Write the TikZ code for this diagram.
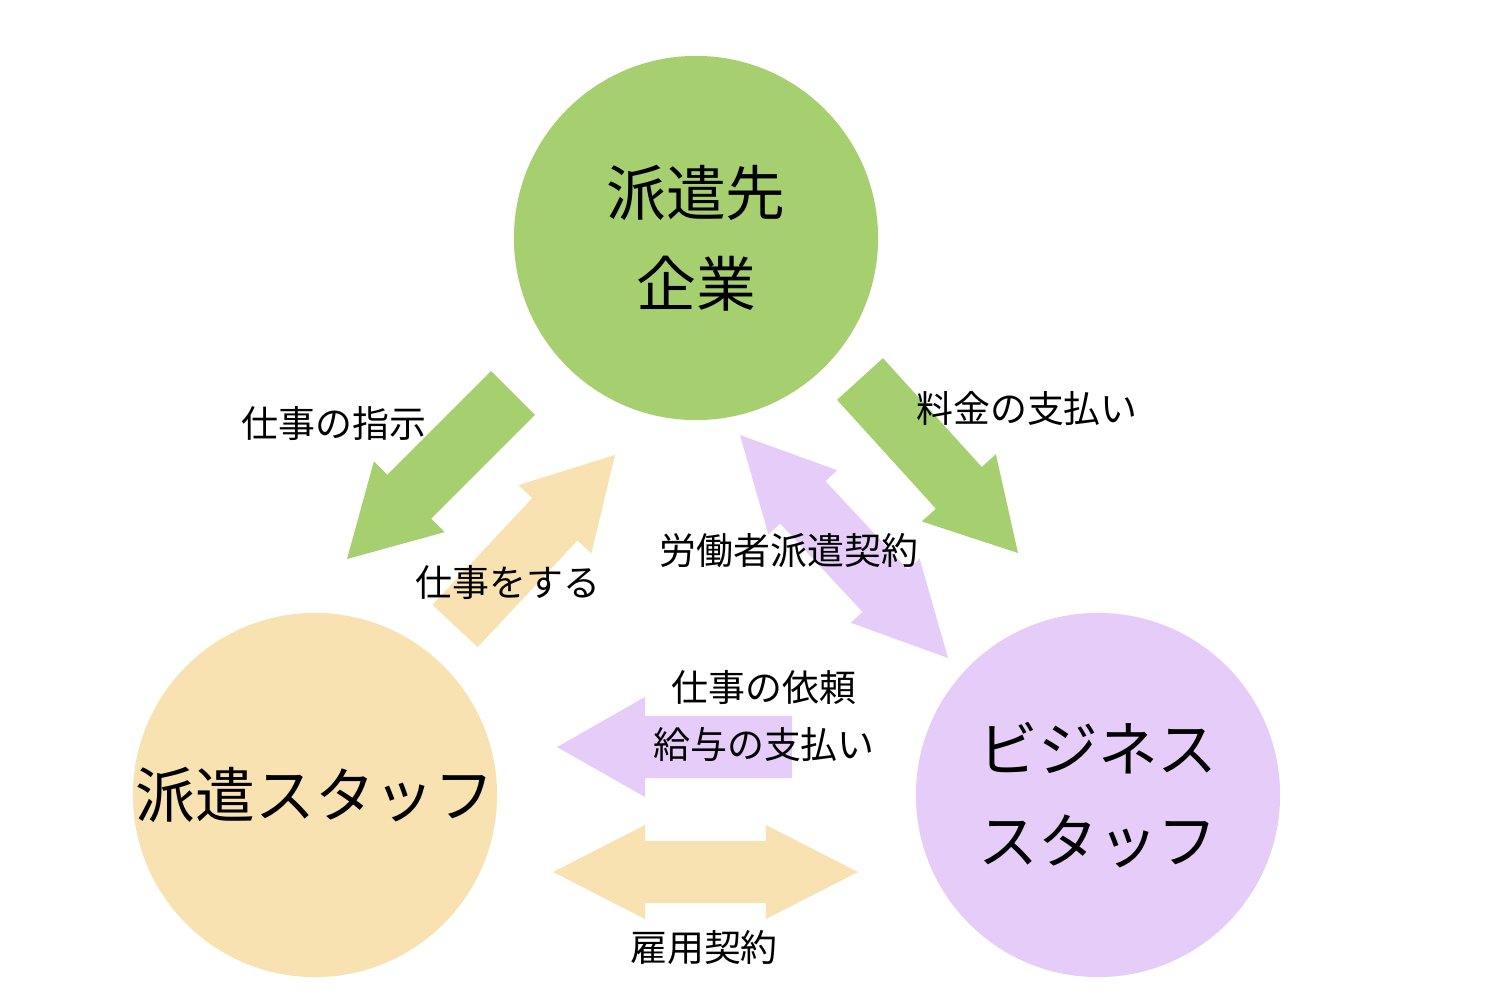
\documentclass[tikz,border=0pt]{standalone}
\usepackage{fontspec}
\setmainfont{Noto Sans CJK JP}
\usetikzlibrary{calc}
\definecolor{sakigreen}{HTML}{A6D06F}
\definecolor{hakenyellow}{HTML}{F8E2B1}
\definecolor{bizpurple}{HTML}{E6CCF8}
\newcommand{\blockarrow}[3]{%
  \coordinate (ba) at ($(#3)!0.88cm!(#2)$);
  \fill[#1] ($(#2)!0.31cm!90:(#3)$) -- ($(ba)!0.31cm!90:(#3)$) -- ($(ba)!0.5cm!90:(#3)$) -- (#3)
    -- ($(ba)!0.5cm!-90:(#3)$) -- ($(ba)!0.31cm!-90:(#3)$) -- ($(#2)!0.31cm!-90:(#3)$) -- cycle;}
\newcommand{\dblockarrow}[3]{%
  \coordinate (ba) at ($(#2)!0.92cm!(#3)$);
  \coordinate (bb) at ($(#3)!0.92cm!(#2)$);
  \fill[#1] (#2) -- ($(ba)!0.47cm!90:(#3)$) -- ($(ba)!0.31cm!90:(#3)$) -- ($(bb)!0.31cm!-90:(#2)$)
    -- ($(bb)!0.47cm!-90:(#2)$) -- (#3) -- ($(bb)!0.47cm!90:(#2)$) -- ($(bb)!0.31cm!90:(#2)$)
    -- ($(ba)!0.31cm!-90:(#3)$) -- ($(ba)!0.47cm!-90:(#3)$) -- cycle;}
\begin{document}
\begin{tikzpicture}[x=0.01cm,y=-0.01cm,
    party/.style={circle,minimum size=3.64cm,inner sep=0pt,align=center,
      font=\fontsize{17pt}{26pt}\selectfont},
    lbl/.style={inner sep=1pt,align=center,font=\fontsize{10.5pt}{16.2pt}\selectfont}]
    \useasboundingbox (0,0) rectangle (1500,1000);
    \node[party,fill=sakigreen] (saki) at (696,238) {派遣先\\企業};
    \node[party,fill=hakenyellow] (haken) at (315,795) {派遣スタッフ};
    \node[party,fill=bizpurple] (biz) at (1098,795) {ビジネス\\スタッフ};
    \coordinate (shiji-s) at (513,393);   \coordinate (shiji-e) at (347,559);
    \coordinate (ryokin-s) at (860,379);  \coordinate (ryokin-e) at (1018,553);
    \coordinate (shigoto-s) at (455,626); \coordinate (shigoto-e) at (615,455);
    \coordinate (keiyaku-a) at (740,435); \coordinate (keiyaku-b) at (948,658);
    \coordinate (irai-s) at (792,747);    \coordinate (irai-e) at (557,747);
    \coordinate (koyo-a) at (553,872);    \coordinate (koyo-b) at (858,872);
    \blockarrow{sakigreen}{shiji-s}{shiji-e}
    \blockarrow{sakigreen}{ryokin-s}{ryokin-e}
    \blockarrow{hakenyellow}{shigoto-s}{shigoto-e}
    \dblockarrow{bizpurple}{keiyaku-a}{keiyaku-b}
    \blockarrow{bizpurple}{irai-s}{irai-e}
    \dblockarrow{hakenyellow}{koyo-a}{koyo-b}
    \node[lbl] (l-shiji) at (334,424) {仕事の指示};
    \node[lbl] (l-ryokin) at (1027,408) {料金の支払い};
    \node[lbl] (l-shigoto) at (508,583) {仕事をする};
    \node[lbl] (l-keiyaku) at (789,551) {労働者派遣契約};
    \node[lbl] (l-irai) at (764,716) {仕事の依頼\\給与の支払い};
    \node[lbl] (l-koyo) at (704,948) {雇用契約};
\end{tikzpicture}
\end{document}
